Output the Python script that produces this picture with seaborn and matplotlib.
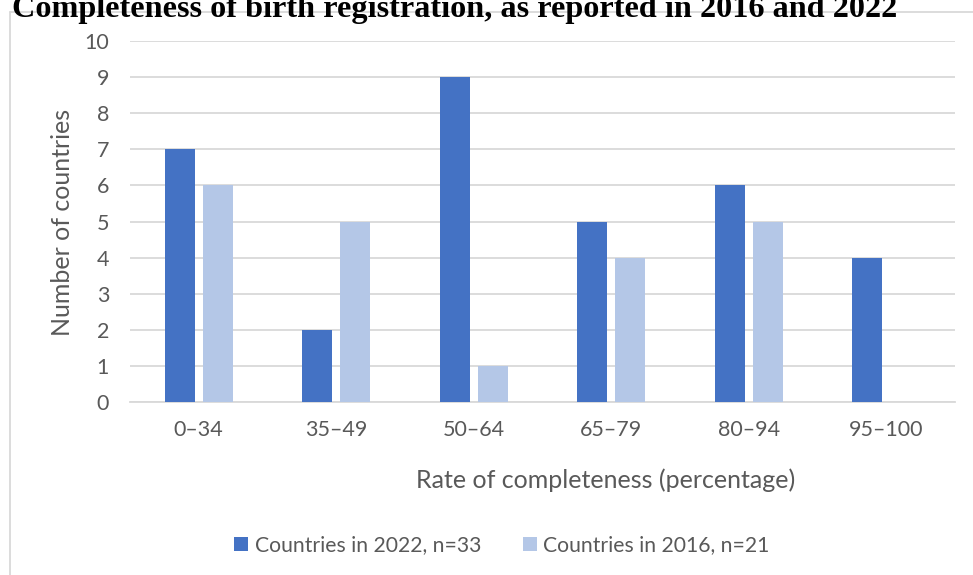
import matplotlib
matplotlib.use("Agg")
import matplotlib.pyplot as plt
from matplotlib.lines import Line2D
from matplotlib.patches import Patch
import pandas as pd
import seaborn as sns

# Completeness bands and country counts per reporting round
bands = ["0–34", "35–49", "50–64", "65–79", "80–94", "95–100"]
counts_2022 = [7, 2, 9, 5, 6, 4]
counts_2016 = [6, 5, 1, 4, 5, 0]
series_names = ["Countries in 2022, n=33", "Countries in 2016, n=21"]
series_colors = ["#4472C4", "#B4C7E7"]
y_ticks = list(range(0, 11))

title_text = "Completeness of birth registration, as reported in 2016 and 2022"
x_label = "Rate of completeness (percentage)"
y_label = "Number of countries"

df = pd.DataFrame({
    "band": bands * 2,
    "count": counts_2022 + counts_2016,
    "series": [series_names[0]] * len(bands) + [series_names[1]] * len(bands),
})

sns.set_theme(style="white")
plt.rcParams["font.family"] = ["Lato", "DejaVu Sans"]

W, H = 973, 575
fig = plt.figure(figsize=(W / 100, H / 100), dpi=100)
ax = fig.add_axes([130 / W, 1 - 402 / H, (955 - 130) / W, (402 - 41) / H])

sns.barplot(
    data=df, x="band", y="count", hue="series", order=bands,
    hue_order=series_names, palette=series_colors, width=0.55, gap=0.2,
    linewidth=0, saturation=1, ax=ax, legend=False, zorder=3,
)

text_col = "#595959"
grid_col = "#D9D9D9"

ax.set_ylim(0, 10)
ax.set_yticks(y_ticks)
ax.set_xlim(-0.5, len(bands) - 0.5)
ax.grid(axis="y", color=grid_col, linewidth=1.3, zorder=0)
ax.grid(axis="x", visible=False)
for side in ["top", "right", "left"]:
    ax.spines[side].set_visible(False)
ax.spines["bottom"].set_color(grid_col)
ax.spines["bottom"].set_linewidth(1.3)
ax.tick_params(axis="both", length=0, labelsize=15.5, labelcolor=text_col)
ax.tick_params(axis="y", pad=15)
ax.tick_params(axis="x", pad=13)
ax.set_xlabel("")
ax.set_ylabel("")

# Axis titles
fig.text(606 / W, 1 - 480 / H, x_label, ha="center", va="center",
         fontsize=18, color=text_col)
fig.text(62 / W, 1 - 222 / H, y_label, ha="center", va="center",
         rotation=90, fontsize=18, color=text_col)

# Legend below the plot
handles = [Patch(facecolor=c, edgecolor="none") for c in series_colors]
fig.legend(handles, series_names, loc="center", ncol=2,
           bbox_to_anchor=(502 / W, 1 - 545 / H), frameon=False,
           fontsize=15.2, labelcolor=text_col, handlelength=0.65,
           handleheight=0.65, handletextpad=0.3, columnspacing=2.0)

# Chart frame
fig.add_artist(Line2D([10 / W, 10 / W], [0, 1 - 12 / H], color=grid_col,
                      linewidth=1.3, transform=fig.transFigure))
fig.add_artist(Line2D([10 / W, 1], [1 - 12 / H, 1 - 12 / H], color=grid_col,
                      linewidth=1.3, transform=fig.transFigure))

# Heading, partly running off the top edge
fig.text(12 / W, 1 - 17 / H, title_text, ha="left", va="baseline",
         fontsize=23.2, fontweight="bold", color="black",
         family=["Liberation Serif", "DejaVu Serif"])

fig.savefig("out.png", dpi=100, facecolor="white")
